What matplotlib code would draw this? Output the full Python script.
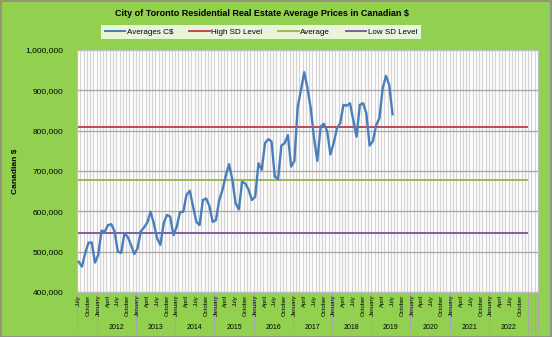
import numpy as np
import matplotlib
matplotlib.use("Agg")
import matplotlib.pyplot as plt
from matplotlib.patches import Rectangle
from matplotlib.lines import Line2D

plt.rcParams['font.family'] = ['Liberation Sans', 'DejaVu Sans']

title = "City of Toronto Residential Real Estate Average Prices in Canadian $"
years = [2011, 2012, 2013, 2014, 2015, 2016, 2017, 2018, 2019, 2020, 2021, 2022]
month_names = ["January", "February", "March", "April", "May", "June", "July",
               "August", "September", "October", "November", "December"]
shown_months = ["January", "April", "July", "October"]
start_month = 7  # July 2011
n_extra = 3      # empty categories after Dec 2022

# Average prices (C$ thousands), Jul 2011 .. Jul 2019
prices_k = [475, 463, 496, 522, 523, 473,
            492, 552, 550, 566, 568, 550, 500, 497, 545, 537, 517, 494,
            508, 550, 560, 572, 599, 570, 533, 517, 570, 591, 587, 541,
            562, 598, 599, 641, 651, 612, 574, 566, 628, 632, 613, 574,
            578, 628, 653, 688, 717, 679, 620, 605, 673, 669, 653, 628,
            636, 719, 703, 769, 779, 773, 686, 680, 763, 769, 789, 711,
            725, 859, 901, 945, 905, 855, 781, 725, 810, 817, 799, 741,
            769, 806, 818, 864, 862, 868, 826, 785, 864, 868, 843, 763,
            774, 814, 831, 905, 936, 913, 841]
high_sd = 808000
average = 677000
low_sd = 546000

# categories
cats = []
for y in years:
    for m in range(1, 13):
        if y == years[0] and m < start_month:
            continue
        cats.append((y, month_names[m - 1]))
n_dated = len(cats)
n_cat = n_dated + n_extra

prices = np.array(prices_k) * 1000
x_p = np.arange(len(prices))
x_lvl = np.arange(n_dated)

fig = plt.figure(figsize=(5.52, 3.37), dpi=100)
fig.patch.set_facecolor('#92D050')
fig.patches.append(Rectangle((0.001, 0.001), 0.998, 0.997, transform=fig.transFigure,
                             fill=False, edgecolor='#8C8C8C', lw=1.2))

ax = fig.add_axes([77/552, 1-292/337, (538-77)/552, (292-50)/337])
ax.set_facecolor('white')

blue, red, green, purple = '#4A7EBB', '#BE4B48', '#98B954', '#7D60A0'
ax.plot(x_p, prices, color=blue, lw=1.7, label='Averages C$', zorder=5)
ax.plot(x_lvl, [high_sd]*n_dated, color=red, lw=1.4, label='High SD Level', zorder=4)
ax.plot(x_lvl, [average]*n_dated, color=green, lw=1.4, label='Average', zorder=4)
ax.plot(x_lvl, [low_sd]*n_dated, color=purple, lw=1.4, label='Low SD Level', zorder=4)

ax.set_xlim(-0.5, n_cat - 0.5)
ax.set_ylim(400000, 1000000)
ax.set_yticks(np.arange(400000, 1000001, 100000))
ax.set_yticklabels([f"{v:,}" for v in range(400000, 1000001, 100000)], fontsize=6)
ax.tick_params(axis='y', length=0, pad=10)
ax.set_xticks(np.arange(-0.5, n_cat, 1))
ax.set_xticklabels([])
ax.tick_params(axis='x', length=0)
ax.grid(axis='x', color='#D4D4D4', lw=0.9, zorder=0)
ax.grid(axis='y', color='#A6A6A6', lw=0.9, zorder=1)
ax.set_axisbelow(True)
for s in ax.spines.values():
    s.set_color('#BFBFBF')
    s.set_linewidth(0.8)

ax.set_ylabel('Canadian $', fontsize=6, fontweight='bold', labelpad=6)
ax.yaxis.set_label_coords(-0.125, 0.5)

trans = ax.get_xaxis_transform()
for i, (y, mname) in enumerate(cats):
    if mname in shown_months:
        ax.text(i, -0.012, mname, rotation=90, ha='center', va='top',
                fontsize=4.3, transform=trans, clip_on=False)
# year group separators and labels
bounds = [-0.5]
for y in years:
    idx = [i for i, c in enumerate(cats) if c[0] == y]
    bounds.append(idx[-1] + 0.5)
    if y != years[0]:
        ax.text((idx[0] + idx[-1]) / 2, -0.147, str(y), ha='center', va='center',
                fontsize=5, transform=trans, clip_on=False)
for k in range(n_extra):
    bounds.append(n_dated + k + 0.5)
for b in bounds:
    ax.add_line(Line2D([b, b], [0, -0.165], transform=trans, color='#A6A6A6',
                       lw=0.8, clip_on=False))

fig.text(261.5/552, 1-14/337, title, ha='center', va='center', fontsize=6.5, fontweight='bold')

leg = fig.legend(loc='center', bbox_to_anchor=(261/552, 1-32/337), ncol=4, fontsize=5.8,
                 frameon=True, fancybox=False, handlelength=2.6, columnspacing=1.9,
                 handletextpad=0.2, borderpad=0.45)
leg.get_frame().set_facecolor('white')
leg.get_frame().set_edgecolor('white')
leg.get_frame().set_linewidth(0)
for h in leg.get_lines():
    h.set_linewidth(1.4)

fig.savefig('out.png', dpi=100, facecolor=fig.get_facecolor())
